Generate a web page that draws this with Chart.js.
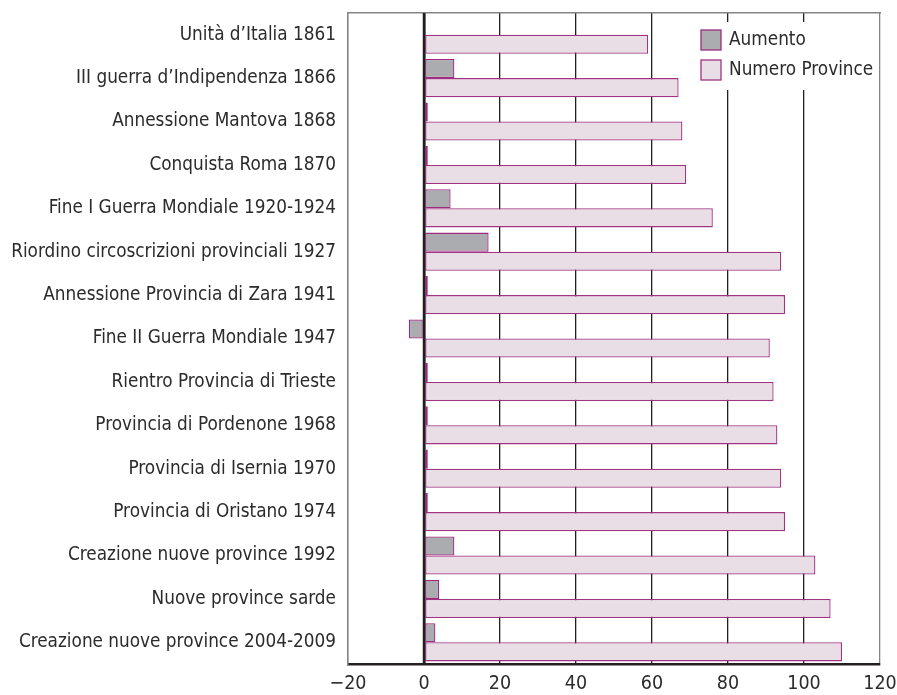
<!DOCTYPE html>
<html>
<head>
<meta charset="utf-8">
<script src="https://cdn.jsdelivr.net/npm/chart.js@4.4.1/dist/chart.umd.min.js"></script>
<style>
  html, body { margin: 0; padding: 0; background: #fff; }
  #wrap { width: 897px; height: 695px; }
</style>
</head>
<body>
<div id="wrap"><canvas id="chart"></canvas></div>
<script>
const categories = [
  'Unità d\u2019Italia 1861',
  'III guerra d\u2019Indipendenza 1866',
  'Annessione Mantova 1868',
  'Conquista Roma 1870',
  'Fine I Guerra Mondiale 1920-1924',
  'Riordino circoscrizioni provinciali 1927',
  'Annessione Provincia di Zara 1941',
  'Fine II Guerra Mondiale 1947',
  'Rientro Provincia di Trieste',
  'Provincia di Pordenone 1968',
  'Provincia di Isernia 1970',
  'Provincia di Oristano 1974',
  'Creazione nuove province 1992',
  'Nuove province sarde',
  'Creazione nuove province 2004-2009'
];
const aumento = [0, 8, 1, 1, 7, 17, 1, -4, 1, 1, 1, 1, 8, 4, 3];
const numeroProvince = [59, 67, 68, 69, 76, 94, 95, 91, 92, 93, 94, 95, 103, 107, 110];
const xTicks = [-20, 0, 20, 40, 60, 80, 100, 120];

const FONT = '"Liberation Sans Narrow", "DejaVu Sans Condensed", "Roboto Condensed", sans-serif';
const TEXT = '#2b2b2b';
const INK = '#231f20';
const FRAME = '#858585';

// zero line sits on top of the bars
const zeroLine = {
  id: 'zeroLine',
  afterDatasetsDraw(chart) {
    const { ctx, chartArea, scales } = chart;
    const x = scales.x.getPixelForValue(0);
    ctx.save();
    ctx.strokeStyle = INK;
    ctx.lineWidth = 2.5;
    ctx.beginPath();
    ctx.moveTo(x, chartArea.top);
    ctx.lineTo(x, chartArea.bottom);
    ctx.stroke();
    ctx.restore();
  }
};

// legend inside the plot, top right, on white
const legendBox = {
  id: 'legendBox',
  afterDraw(chart) {
    const { ctx, chartArea } = chart;
    const x0 = chartArea.right - 179;
    const y0 = chartArea.top + 17;
    ctx.save();
    ctx.fillStyle = '#fff';
    ctx.fillRect(x0 - 8, y0 - 8, 185, 68);
    ctx.font = '18.8px ' + FONT;
    ctx.textBaseline = 'middle';
    chart.data.datasets.forEach((ds, i) => {
      const y = y0 + i * 30;
      ctx.fillStyle = ds.backgroundColor;
      ctx.fillRect(x0, y, 20, 20);
      ctx.strokeStyle = ds.borderColor;
      ctx.lineWidth = 1.3;
      ctx.strokeRect(x0, y, 20, 20);
      ctx.fillStyle = TEXT;
      ctx.fillText(ds.label, x0 + 28, y + 10);
    });
    ctx.restore();
  }
};

const ctx = document.getElementById('chart').getContext('2d');
new Chart(ctx, {
  type: 'bar',
  data: {
    labels: categories,
    datasets: [
      {
        label: 'Aumento',
        data: aumento,
        backgroundColor: '#abacaf',
        borderColor: '#9c2a7e',
        borderWidth: 1.3,
        borderSkipped: false,
        categoryPercentage: 0.88,
        barPercentage: 1
      },
      {
        label: 'Numero Province',
        data: numeroProvince,
        backgroundColor: '#e9dde6',
        borderColor: '#a03382',
        borderWidth: 1.3,
        borderSkipped: false,
        categoryPercentage: 0.88,
        barPercentage: 1
      }
    ]
  },
  options: {
    indexAxis: 'y',
    responsive: true,
    maintainAspectRatio: false,
    animation: false,
    layout: { padding: { top: 13, left: 0, right: 0, bottom: 0 } },
    scales: {
      x: {
        type: 'linear',
        min: -20,
        max: 120,
        afterBuildTicks: axis => { axis.ticks = xTicks.map(v => ({ value: v })); },
        grid: {
          drawTicks: false,
          color: c => (c.tick.value === -20 || c.tick.value === 120) ? FRAME : INK,
          lineWidth: c => c.tick.value === 0 ? 2.5 : 1.3
        },
        border: { display: true, color: INK, width: 2.5 },
        ticks: {
          padding: 8,
          color: TEXT,
          font: { family: FONT, size: 19.5 },
          callback: v => v < 0 ? '\u2212' + Math.abs(v) : String(v)
        },
        afterFit: s => { s.height = 31; s.paddingRight = 17; }
      },
      xTop: {
        type: 'linear',
        axis: 'x',
        position: 'top',
        min: -20,
        max: 120,
        grid: { display: false, drawTicks: false },
        ticks: { display: false },
        border: { display: true, color: FRAME, width: 1.5 },
        afterFit: s => { s.height = 0; }
      },
      y: {
        grid: { display: false, drawTicks: false },
        border: { display: true, color: FRAME, width: 1.5 },
        ticks: {
          padding: 12,
          color: TEXT,
          font: { family: FONT, size: 18.8 }
        },
        afterFit: s => { s.width = 348; s.paddingTop = 0; s.paddingBottom = 0; }
      }
    },
    plugins: {
      legend: { display: false },
      tooltip: { enabled: false }
    }
  },
  plugins: [zeroLine, legendBox]
});
</script>
</body>
</html>
